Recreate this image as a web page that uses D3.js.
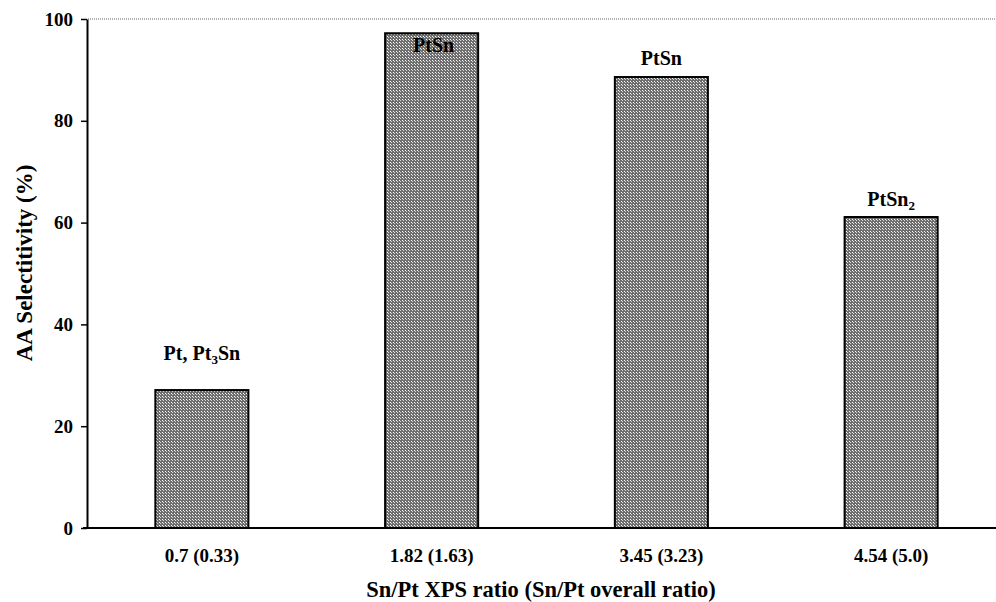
<!DOCTYPE html>
<html>
<head>
<meta charset="utf-8">
<script src="https://cdn.jsdelivr.net/npm/d3@7"></script>
<style>
  body { margin: 0; background: #fff; }
  text { font-family: "Liberation Serif", "Times New Roman", serif; font-weight: bold; fill: #000; }
</style>
</head>
<body>
<div id="chart"></div>
<script>
// data
const categories = ['0.7 (0.33)', '1.82 (1.63)', '3.45 (3.23)', '4.54 (5.0)'];
const selectivity = [27.1, 97.2, 88.6, 61.1];
// phase labels: [text, is subscript]
const phases = [
  [['Pt, Pt', false], ['3', true], ['Sn', false]],
  [['PtSn', false]],
  [['PtSn', false]],
  [['PtSn', false], ['2', true]]
];
const yTicks = [0, 20, 40, 60, 80, 100];
// label baseline offset from bar top (px), as placed in the original
const labelDy = [-30, 19, -12, -11];

const width = 996, height = 602;
const svg = d3.select('#chart').append('svg')
  .attr('width', width)
  .attr('height', height);

// dotted fill like the original
const defs = svg.append('defs');
const pat = defs.append('pattern')
  .attr('id', 'dots')
  .attr('patternUnits', 'userSpaceOnUse')
  .attr('width', 3).attr('height', 3);
pat.append('rect').attr('width', 3).attr('height', 3).attr('fill', '#6e6e6e');
pat.append('rect').attr('x', 0).attr('y', 0).attr('width', 1).attr('height', 1).attr('fill', '#fff');
pat.append('rect').attr('x', 1).attr('y', 1).attr('width', 1).attr('height', 1).attr('fill', '#d8d8d8');

const x = d3.scaleBand()
  .domain(categories)
  .range([87, 1006])
  .paddingInner(0.595)
  .paddingOuter(0.2975);

const y = d3.scaleLinear().domain([0, 100]).range([528, 19]);

// dotted top line
svg.append('line')
  .attr('x1', 88).attr('x2', width)
  .attr('y1', y(100)).attr('y2', y(100))
  .attr('stroke', '#9a9a9a')
  .attr('stroke-width', 1.5)
  .attr('stroke-dasharray', '1,1');

// bars
svg.selectAll('.bar')
  .data(selectivity)
  .enter()
  .append('rect')
  .attr('class', 'bar')
  .attr('x', (d, i) => x(categories[i]))
  .attr('width', x.bandwidth())
  .attr('y', d => y(d))
  .attr('height', d => y(0) - y(d))
  .attr('fill', 'url(#dots)')
  .attr('stroke', '#000')
  .attr('stroke-width', 2);

// y axis
const yAxis = svg.append('g')
  .attr('transform', 'translate(87,0)')
  .call(d3.axisLeft(y).tickValues(yTicks).tickSize(6).tickPadding(8).tickSizeOuter(0));
yAxis.select('.domain').attr('stroke-width', 2);
yAxis.selectAll('.tick line').attr('stroke-width', 1.5);
yAxis.selectAll('.tick text')
  .style('font-family', '"Liberation Serif", serif')
  .style('font-weight', 'bold')
  .style('font-size', '19px');

// x axis line
svg.append('line')
  .attr('x1', 83).attr('x2', width)
  .attr('y1', y(0)).attr('y2', y(0))
  .attr('stroke', '#000')
  .attr('stroke-width', 2);

// category labels
svg.selectAll('.xlab')
  .data(categories)
  .enter()
  .append('text')
  .attr('class', 'xlab')
  .attr('x', d => x(d) + x.bandwidth() / 2)
  .attr('y', 562)
  .attr('text-anchor', 'middle')
  .style('font-size', '19px')
  .text(d => d);

// phase labels
phases.forEach((parts, i) => {
  const cx = x(categories[i]) + x.bandwidth() / 2;
  const t = svg.append('text')
    .attr('x', cx + (i === 1 ? 2 : 0))
    .attr('y', y(selectivity[i]) + labelDy[i])
    .attr('text-anchor', 'middle')
    .style('font-size', '20px');
  parts.forEach(([s, sub], j) => {
    const ts = t.append('tspan').text(s);
    if (sub) ts.attr('dy', 4).style('font-size', '13px');
    else if (j > 0 && parts[j - 1][1]) ts.attr('dy', -4);
  });
});

// axis titles
svg.append('text')
  .attr('x', 541)
  .attr('y', 597)
  .attr('text-anchor', 'middle')
  .style('font-size', '22.5px')
  .text('Sn/Pt XPS ratio (Sn/Pt overall ratio)');

svg.append('text')
  .attr('transform', 'translate(32,263) rotate(-90)')
  .attr('text-anchor', 'middle')
  .style('font-size', '23px')
  .text('AA Selectitivity (%)');
</script>
</body>
</html>
